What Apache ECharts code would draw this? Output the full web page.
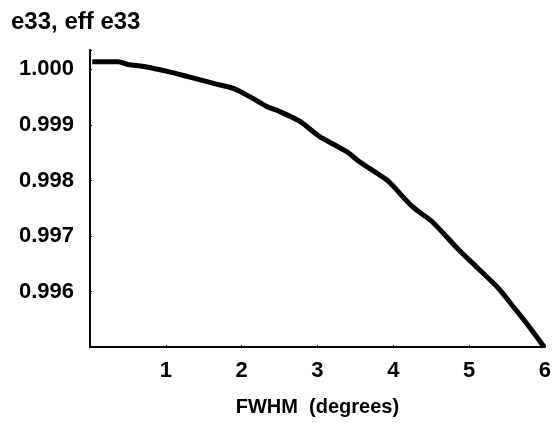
<!DOCTYPE html>
<html>
<head>
<meta charset="utf-8">
<script src="https://cdn.jsdelivr.net/npm/echarts@6/dist/echarts.min.js"></script>
<style>html,body{margin:0;padding:0;background:#fff;}#c{width:554px;height:426px;}</style>
</head>
<body>
<div id="c"></div>
<script>
var fwhm = [0.03, 0.37, 0.50, 0.71, 1.02, 1.28, 1.63, 1.89, 2.15, 2.33, 2.50, 2.77, 2.94, 3.07, 3.38, 3.55, 3.81, 3.94, 4.25, 4.51, 4.86, 5.12, 5.39, 5.56, 5.74, 5.82, 5.99];
var e33 = [1.00014, 1.00014, 1.00009, 1.000054, 0.999964, 0.999874, 0.999748, 0.999658, 0.999477, 0.999333, 0.999243, 0.999063, 0.998883, 0.998757, 0.998523, 0.998342, 0.998108, 0.997982, 0.997532, 0.997261, 0.996757, 0.996414, 0.996054, 0.995766, 0.995459, 0.995315, 0.995];
var yTickLabels = ['0.996', '0.997', '0.998', '0.999', '1.000'];
var xTickLabels = ['1', '2', '3', '4', '5', '6'];

var pts = fwhm.map(function (x, i) { return [x, e33[i]]; });
var font = '"Liberation Sans", Arial, sans-serif';
var chart = echarts.init(document.getElementById('c'), null, {renderer: 'canvas'});
chart.setOption({
  animation: false,
  backgroundColor: '#fff',
  title: {
    text: 'e33, eff e33',
    left: 6, top: 5,
    textStyle: {fontFamily: font, fontWeight: 'bold', fontSize: 24, color: '#000'}
  },
  grid: {left: 90, right: 8, top: 50, bottom: 79},
  xAxis: {
    type: 'value', min: 0, max: 6, interval: 1,
    name: 'FWHM  (degrees)', nameLocation: 'middle', nameGap: 50,
    nameTextStyle: {fontFamily: font, fontWeight: 'bold', fontSize: 20, color: '#000'},
    axisLine: {lineStyle: {color: '#000', width: 2}},
    axisTick: {inside: true, length: 2, lineStyle: {color: '#000'}},
    splitLine: {show: false},
    axisLabel: {
      margin: 13,
      fontFamily: font, fontWeight: 'bold', fontSize: 22, color: '#000',
      formatter: function (v) {
        var s = String(Math.round(v));
        return (Math.abs(v - Math.round(v)) < 1e-6 && xTickLabels.indexOf(s) >= 0) ? s : '';
      }
    }
  },
  yAxis: {
    type: 'value', min: 0.995, max: 1.00035, interval: 0.001,
    axisLine: {show: true, lineStyle: {color: '#000', width: 2}},
    axisTick: {show: true, inside: true, length: 2, lineStyle: {color: '#000'}},
    splitLine: {show: false},
    axisLabel: {
      margin: 16,
      fontFamily: font, fontWeight: 'bold', fontSize: 22, color: '#000',
      formatter: function (v) {
        var s = v.toFixed(3);
        var k = Math.round(v * 1000);
        return (Math.abs(v * 1000 - k) < 1e-4 && yTickLabels.indexOf(s) >= 0) ? s : '';
      }
    }
  },
  series: [{
    type: 'line',
    data: pts,
    showSymbol: false,
    smooth: 0.3,
    lineStyle: {color: '#000', width: 5},
    clip: false
  }]
});
</script>
</body>
</html>
